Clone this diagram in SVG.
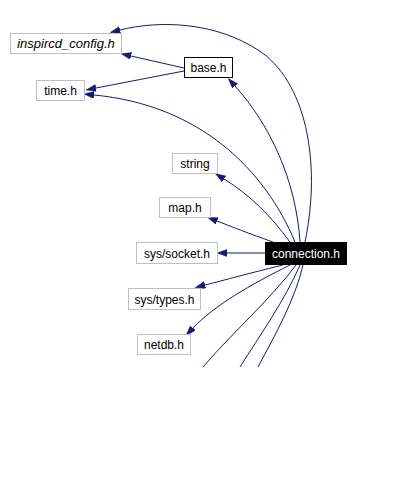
<svg xmlns="http://www.w3.org/2000/svg" width="401" height="497" viewBox="0 0 401 497">
<defs>
<style>
.box{fill:#ffffff;stroke:#bfbfbf;stroke-width:1}
.main{fill:#ffffff;stroke:#000000;stroke-width:1}
.cur{fill:#000000;stroke:#000000;stroke-width:1}
.lbl{font-family:"Liberation Sans",Arial,sans-serif;font-size:12px;text-anchor:middle;fill:#000000}
.it{font-style:italic;font-size:13px}
.wh{fill:#ffffff}
.edge{fill:none;stroke:#191970;stroke-width:1}
.arr{marker-end:url(#ah)}
</style>
<marker id="ah" markerUnits="userSpaceOnUse" markerWidth="11" markerHeight="8" refX="0" refY="3.5" orient="auto">
<path d="M0,0 L10,3.5 L0,7 z" fill="#191970" stroke="#191970" stroke-width="0.5"/>
</marker>
</defs>
<rect width="401" height="497" fill="#ffffff"/>
<g id="connectors">
<path class="edge arr" d="M184,68 L131,56"/>
<path class="edge arr" d="M184,71 L96,88"/>
<path class="edge arr" d="M295,242 C265,170 200,105 94,95"/>
<path class="edge arr" d="M305,242 C322,160 305,80 258,50 C215,22 160,20 120,30"/>
<path class="edge arr" d="M300,242 C296,180 270,125 235,86"/>
<path class="edge arr" d="M290,242 C270,215 250,195 224,179"/>
<path class="edge arr" d="M273,242 C250,234 230,226 217,221"/>
<path class="edge arr" d="M265,253 L227,253"/>
<path class="edge arr" d="M283,265 C250,273 225,280 205,285"/>
<path class="edge arr" d="M290,265 C250,285 215,305 193,328"/>
<path class="edge" d="M296,265 C270,300 230,335 203,367"/>
<path class="edge" d="M300,265 C285,300 260,335 240,367"/>
<path class="edge" d="M303,265 C295,300 275,335 258,367"/>
</g>
<g id="inspircd_config">
<rect class="box" x="10.5" y="33.5" width="111" height="20"/>
<text class="lbl it" x="66" y="48">inspircd_config.h</text>
</g>
<g id="base">
<rect class="main" x="184.5" y="57.5" width="48" height="20"/>
<text class="lbl" x="208.5" y="72">base.h</text>
</g>
<g id="time">
<rect class="box" x="36.5" y="80.5" width="48" height="20"/>
<text class="lbl" x="60.5" y="95">time.h</text>
</g>
<g id="string">
<rect class="box" x="172.5" y="153.5" width="45" height="20"/>
<text class="lbl" x="195" y="168">string</text>
</g>
<g id="map">
<rect class="box" x="159.5" y="197.5" width="51" height="20"/>
<text class="lbl" x="185" y="212">map.h</text>
</g>
<g id="sys_socket">
<rect class="box" x="136.5" y="242.5" width="81" height="21"/>
<text class="lbl" x="177" y="258">sys/socket.h</text>
</g>
<g id="connection">
<rect class="cur" x="265.5" y="242.5" width="81" height="22"/>
<text class="lbl wh" x="306" y="258">connection.h</text>
</g>
<g id="sys_types">
<rect class="box" x="128.5" y="288.5" width="72" height="21"/>
<text class="lbl" x="164.5" y="304">sys/types.h</text>
</g>
<g id="netdb">
<rect class="box" x="137.5" y="334.5" width="53" height="20"/>
<text class="lbl" x="164" y="349">netdb.h</text>
</g>
</svg>
